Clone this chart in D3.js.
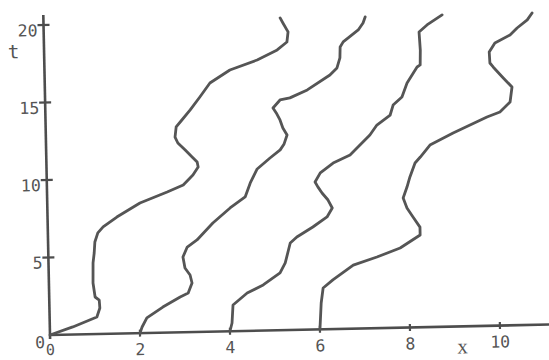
<!DOCTYPE html>
<html>
<head>
<meta charset="utf-8">
<script src="https://cdn.jsdelivr.net/npm/d3@7"></script>
<style>
  html, body { margin: 0; padding: 0; background: #fff; }
  svg { display: block; }
</style>
</head>
<body>
<svg id="chart" width="549" height="360"></svg>
<script>
// Trajectories x(t) of four particles released at x = 0, 2, 4, 6 (pairs are [x, t])
const path0 = [[0,0],[0.51,0.49],[1.05,1.10],[1.12,1.67],[1.11,2.19],[1.02,2.39],[0.98,3.30],[0.99,4.59],
  [1.02,5.23],[1.04,5.94],[1.11,6.52],[1.23,6.90],[1.54,7.52],[2.06,8.39],[2.67,9.07],[3.03,9.50],
  [3.25,10.13],[3.37,10.64],[3.35,10.96],[3.24,11.29],[3.09,11.75],[2.93,12.21],[2.87,12.60],[2.90,13.25],
  [3.03,13.69],[3.22,14.33],[3.44,15.15],[3.67,16.04],[4.12,16.85],[4.73,17.46],[5.18,18.08],[5.40,18.58],
  [5.43,19.23],[5.32,19.81],[5.26,20.14]];
const path1 = [[2,0],[2.05,0.39],[2.16,0.97],[2.52,1.65],[2.91,2.28],[3.09,2.52],[3.18,3.16],[3.14,3.68],
  [3.03,4.14],[2.99,4.85],[3.09,5.49],[3.31,5.93],[3.67,7.00],[4.06,7.95],[4.40,8.64],[4.52,9.54],
  [4.68,10.43],[4.97,11.12],[5.20,11.63],[5.29,12.01],[5.36,12.58],[5.27,13.04],[5.21,13.56],[5.13,14.02],
  [5.06,14.34],[5.22,14.85],[5.44,14.97],[5.83,15.46],[6.34,16.39],[6.50,16.84],[6.57,17.48],[6.58,18.19],
  [6.65,18.51],[6.99,19.26],[7.10,19.70],[7.15,20.09]];
const path2 = [[4,0],[4.05,0.53],[4.08,1.69],[4.40,2.44],[4.76,2.94],[5.14,3.69],[5.26,4.33],[5.38,5.61],
  [5.53,5.99],[5.89,6.61],[6.21,7.24],[6.33,7.81],[6.24,8.33],[6.11,8.79],[6.02,9.19],[5.96,9.51],
  [6.08,10.09],[6.37,10.71],[6.75,11.21],[7.20,12.47],[7.36,13.10],[7.66,13.73],[7.73,14.37],[7.93,14.88],
  [8.05,15.77],[8.28,16.79],[8.35,16.92],[8.36,17.88],[8.34,19.05],[8.52,19.49],[8.86,20.12]];
const path3 = [[6,0],[6.04,1.70],[6.09,2.66],[6.31,3.17],[6.77,4.10],[7.30,4.59],[7.82,5.14],[8.27,5.95],
  [8.27,6.46],[8.12,7.12],[7.99,7.71],[7.91,8.36],[8.00,9.06],[8.07,9.71],[8.19,10.60],[8.31,10.98],
  [8.53,11.74],[9.05,12.48],[9.81,13.47],[10.10,13.78],[10.33,14.41],[10.38,15.37],[10.19,15.97],[9.97,16.69],
  [9.90,16.95],[9.89,17.66],[10.02,18.24],[10.36,18.73],[10.52,19.17],[10.75,19.68],[10.86,20.12]];
const paths = [path0, path1, path2, path3];

const xTicks = [2, 4, 6, 8, 10];
const xTickLabels = ["2", "4", "6", "8", "10"];
const tTicks = [5, 10, 15, 20];
const tTickLabels = ["5", "10", "15", "20"];
const xDomain = [0, 11.2];
const tDomain = [0, 20.65];

const svg = d3.select("#chart");
const ink = "#4d4d4d";

// Plot frame: origin near the lower-left, whole frame tilted slightly
const g = svg.append("g").attr("transform", "translate(50,335) rotate(-1.2)");

const x = d3.scaleLinear().domain(xDomain).range([0, 45 * xDomain[1]]);
const t = d3.scaleLinear().domain(tDomain).range([0, -15.5 * tDomain[1]]);

// axes
g.append("line").attr("x1", x(0)).attr("x2", x(xDomain[1]))
  .attr("y1", 0).attr("y2", 0)
  .attr("stroke", ink).attr("stroke-width", 2.6);
g.append("line").attr("x1", 0).attr("x2", 0)
  .attr("y1", 4).attr("y2", t(tDomain[1]))
  .attr("stroke", ink).attr("stroke-width", 2.6);

// tick crosses
g.selectAll(".xt").data(xTicks).enter().append("line")
  .attr("x1", d => x(d)).attr("x2", d => x(d)).attr("y1", -3.5).attr("y2", 3.5)
  .attr("stroke", ink).attr("stroke-width", 2.2);
g.selectAll(".tt").data(tTicks).enter().append("line")
  .attr("x1", -6).attr("x2", 6).attr("y1", d => t(d)).attr("y2", d => t(d))
  .attr("stroke", ink).attr("stroke-width", 2.2);

const labelFont = "'DejaVu Sans Mono', monospace";
g.selectAll(".xl").data(xTicks).enter().append("text")
  .attr("x", d => x(d)).attr("y", 22)
  .attr("text-anchor", "middle")
  .attr("font-family", labelFont).attr("font-size", 16.5).attr("fill", "#555")
  .text((d, i) => xTickLabels[i]);
g.selectAll(".tl").data(tTicks).enter().append("text")
  .attr("x", -6).attr("y", d => t(d) + 11)
  .attr("text-anchor", "end")
  .attr("font-family", labelFont).attr("font-size", 16.5).attr("fill", "#555")
  .text((d, i) => tTickLabels[i]);
// zero labels at the origin
g.append("text").attr("x", -5).attr("y", 13).attr("text-anchor", "end")
  .attr("font-family", labelFont).attr("font-size", 16.5).attr("fill", "#555").text("0");
g.append("text").attr("x", x(0)).attr("y", 20).attr("text-anchor", "middle")
  .attr("font-family", labelFont).attr("font-size", 15).attr("fill", "#555").text("0");

// axis names
g.append("text").attr("x", x(9.16)).attr("y", 27).attr("text-anchor", "middle")
  .attr("font-family", "'Liberation Serif', serif").attr("font-size", 21).attr("fill", "#555").text("x");
g.append("text").attr("x", -30.5).attr("y", t(17.9)).attr("text-anchor", "middle")
  .attr("font-family", labelFont).attr("font-size", 19).attr("fill", "#555").text("t");

// trajectories
const line = d3.line().x(d => x(d[0])).y(d => t(d[1])).curve(d3.curveLinear);
g.selectAll(".traj").data(paths).enter().append("path")
  .attr("d", line)
  .attr("fill", "none").attr("stroke", "#555")
  .attr("stroke-width", 2.8).attr("stroke-linejoin", "round").attr("stroke-linecap", "round");
</script>
</body>
</html>
